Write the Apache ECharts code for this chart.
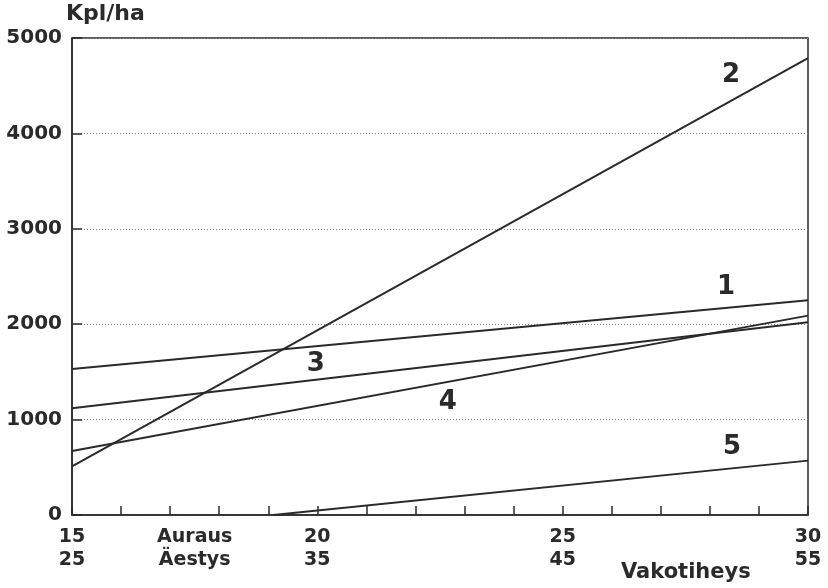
<!DOCTYPE html>
<html><head><meta charset="utf-8">
<script src="https://cdn.jsdelivr.net/npm/echarts@6/dist/echarts.min.js"></script>
<style>html,body{margin:0;padding:0;background:#fff}#c{width:828px;height:588px}</style>
</head><body><div id="c"></div>
<script>
// Auraus (x) value at line start and end
const line1 = [[15, 1530], [30, 2250]];
const line2 = [[15, 510], [30, 4790]];
const line3 = [[15, 1120], [30, 2020]];
const line4 = [[15, 670], [30, 2090]];
const line5 = [[19.1, 0], [30, 570]];
const lineNames = ['1', '2', '3', '4', '5'];
// annotation anchor points (data coordinates)
const labelPoints = [[28.33, 2390], [28.43, 4612], [19.97, 1583], [22.66, 1185], [28.45, 713]];
const auraus = [15, 20, 25, 30];
const aestys = [25, 35, 45, 55];
const yTicks = [0, 1000, 2000, 3000, 4000, 5000];

const ink = '#2a2a2a';
const font = '"DejaVu Sans", sans-serif';
const chart = echarts.init(document.getElementById('c'));
const lines = [line1, line2, line3, line4, line5];
const series = lines.map((d, i) => ({
  type: 'line', name: lineNames[i], data: d, symbol: 'none',
  lineStyle: {color: ink, width: 2}, silent: true
}));
series.push({
  type: 'scatter', data: labelPoints.map((p, i) => ({value: p, name: lineNames[i]})),
  symbolSize: 0, itemStyle: {opacity: 1, color: 'rgba(0,0,0,0)'},
  label: {show: true, position: 'inside', formatter: p => p.name, fontSize: 26, fontWeight: 'bold', fontFamily: font, color: ink, opacity: 1},
  silent: true
});
chart.setOption({
  animation: false,
  title: [
    {text: 'Kpl/ha', left: 66, top: 3, textStyle: {fontSize: 22, fontWeight: 'bold', fontFamily: font, color: ink}, padding: 0},
    {text: 'Vakotiheys', left: 621, top: 562, textStyle: {fontSize: 21, fontWeight: 'bold', fontFamily: font, color: ink}, padding: 0}
  ],
  grid: {left: 72, right: 20, top: 38, bottom: 73, containLabel: false, outerBoundsMode: 'none',
    show: true, borderColor: ink, borderWidth: 1.5, backgroundColor: 'transparent'},
  xAxis: [{
    type: 'value', min: 15, max: 30, interval: 1,
    axisLine: {lineStyle: {color: ink, width: 1.5}},
    axisTick: {inside: true, length: 9, lineStyle: {color: ink, width: 1.5}},
    splitLine: {show: false},
    axisLabel: {
      margin: 11, fontSize: 19, fontWeight: 'bold', fontFamily: font, color: ink, lineHeight: 23,
      formatter: v => { const i = auraus.indexOf(v); return i >= 0 ? auraus[i] + '\n' + aestys[i] : ''; }
    }
  }, {
    type: 'value', min: 15, max: 30, interval: 2.5, position: 'bottom',
    axisLine: {show: false}, axisTick: {show: false}, splitLine: {show: false},
    axisLabel: {
      margin: 11, fontSize: 19, fontWeight: 'bold', fontFamily: font, color: ink, lineHeight: 23,
      formatter: v => v === 17.5 ? 'Auraus\nÄestys' : ''
    }
  }],
  yAxis: {
    type: 'value', min: 0, max: 5000, interval: 1000,
    axisLine: {show: true, lineStyle: {color: ink, width: 1.5}},
    axisTick: {show: true, inside: true, length: 10, lineStyle: {color: ink, width: 1.5}},
    splitLine: {show: true, lineStyle: {color: '#888', type: [1, 2], width: 1}},
    axisLabel: {margin: 10, fontSize: 20, fontWeight: 'bold', fontFamily: font, color: ink,
      formatter: v => yTicks.includes(v) ? String(v) : ''}
  },
  series: series
});
</script></body></html>
